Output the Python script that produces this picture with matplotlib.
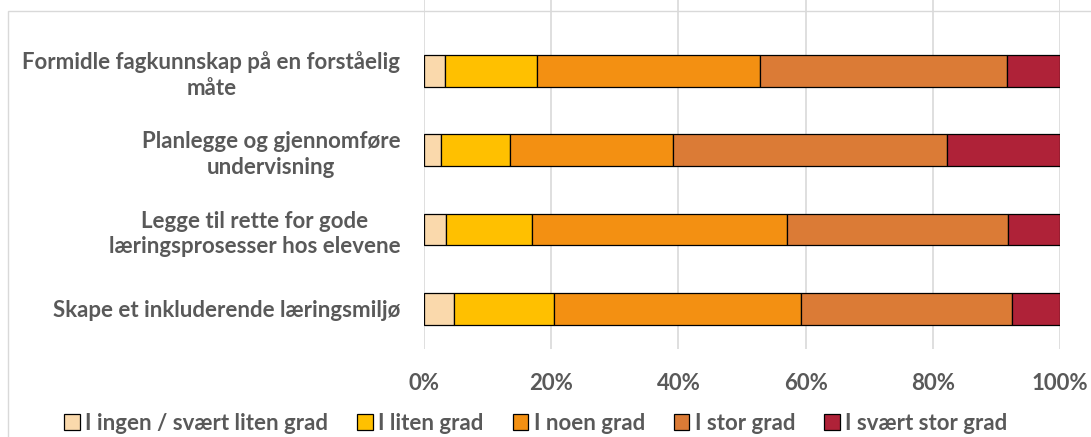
import matplotlib
matplotlib.use("Agg")
import matplotlib.pyplot as plt
from matplotlib.patches import Patch, Rectangle

categories = [
    "Formidle fagkunnskap på en forståelig\nmåte",
    "Planlegge og gjennomføre\nundervisning",
    "Legge til rette for gode\nlæringsprosesser hos elevene",
    "Skape et inkluderende læringsmiljø",
]
series_names = ["I ingen / svært liten grad", "I liten grad", "I noen grad",
                "I stor grad", "I svært stor grad"]
ingen = [3.3, 2.6, 3.5, 4.7]
liten = [14.5, 10.9, 13.5, 15.7]
noen = [35.0, 25.6, 40.1, 38.8]
stor = [38.9, 43.1, 34.7, 33.2]
svaert_stor = [8.3, 17.8, 8.2, 7.6]
series = [ingen, liten, noen, stor, svaert_stor]
colors = ["#FAD9AC", "#FFC000", "#F39012", "#DB7B36", "#AF2238"]
xticks = [0, 20, 40, 60, 80, 100]
xticklabels = ["0%", "20%", "40%", "60%", "80%", "100%"]

plt.rcParams['font.family'] = ['Lato', 'DejaVu Sans']
txt = "#595959"

W, H = 1091, 437
fig = plt.figure(figsize=(W / 100, H / 100), dpi=100)
ax = fig.add_axes([424 / W, 1 - 349 / H, (1060 - 424) / W, 349 / H])

ypos = list(range(len(categories)))
left = [0.0] * len(categories)
for vals, c, name in zip(series, colors, series_names):
    ax.barh(ypos, vals, left=left, height=0.4, color=c, edgecolor="black",
            linewidth=0.9, label=name, zorder=3)
    left = [l + v for l, v in zip(left, vals)]

ax.set_xlim(0, 100)
ax.set_ylim(3.506, -0.895)
ax.set_xticks(xticks)
ax.set_xticklabels(xticklabels, fontsize=16, fontweight="bold", color=txt)
ax.set_yticks(ypos)
ax.set_yticklabels(categories, fontsize=16, fontweight="bold", color=txt,
                   multialignment="center", linespacing=1.25)
ax.tick_params(axis="both", length=0)
ax.tick_params(axis="y", pad=17)
ax.tick_params(axis="x", pad=17)
ax.grid(axis="x", color="#D9D9D9", linewidth=1.2, zorder=0)
for s in ax.spines.values():
    s.set_visible(False)

# chart border
fig.patches.append(Rectangle((8 / W, -0.1), 1.2, 1 - 11 / H + 0.1,
                             transform=fig.transFigure, fill=False,
                             edgecolor="#D9D9D9", linewidth=1.0))

handles = [Patch(facecolor=c, edgecolor="black", linewidth=0.9) for c in colors]
leg = fig.legend(handles, series_names, loc="center", ncol=5,
                 bbox_to_anchor=(536 / W, 1 - 423 / H), frameon=False,
                 prop={"size": 16, "weight": "bold"}, handlelength=0.7,
                 handleheight=0.7, handletextpad=0.25, columnspacing=1.3)
for t in leg.get_texts():
    t.set_color(txt)

fig.savefig("out.png", dpi=100)
